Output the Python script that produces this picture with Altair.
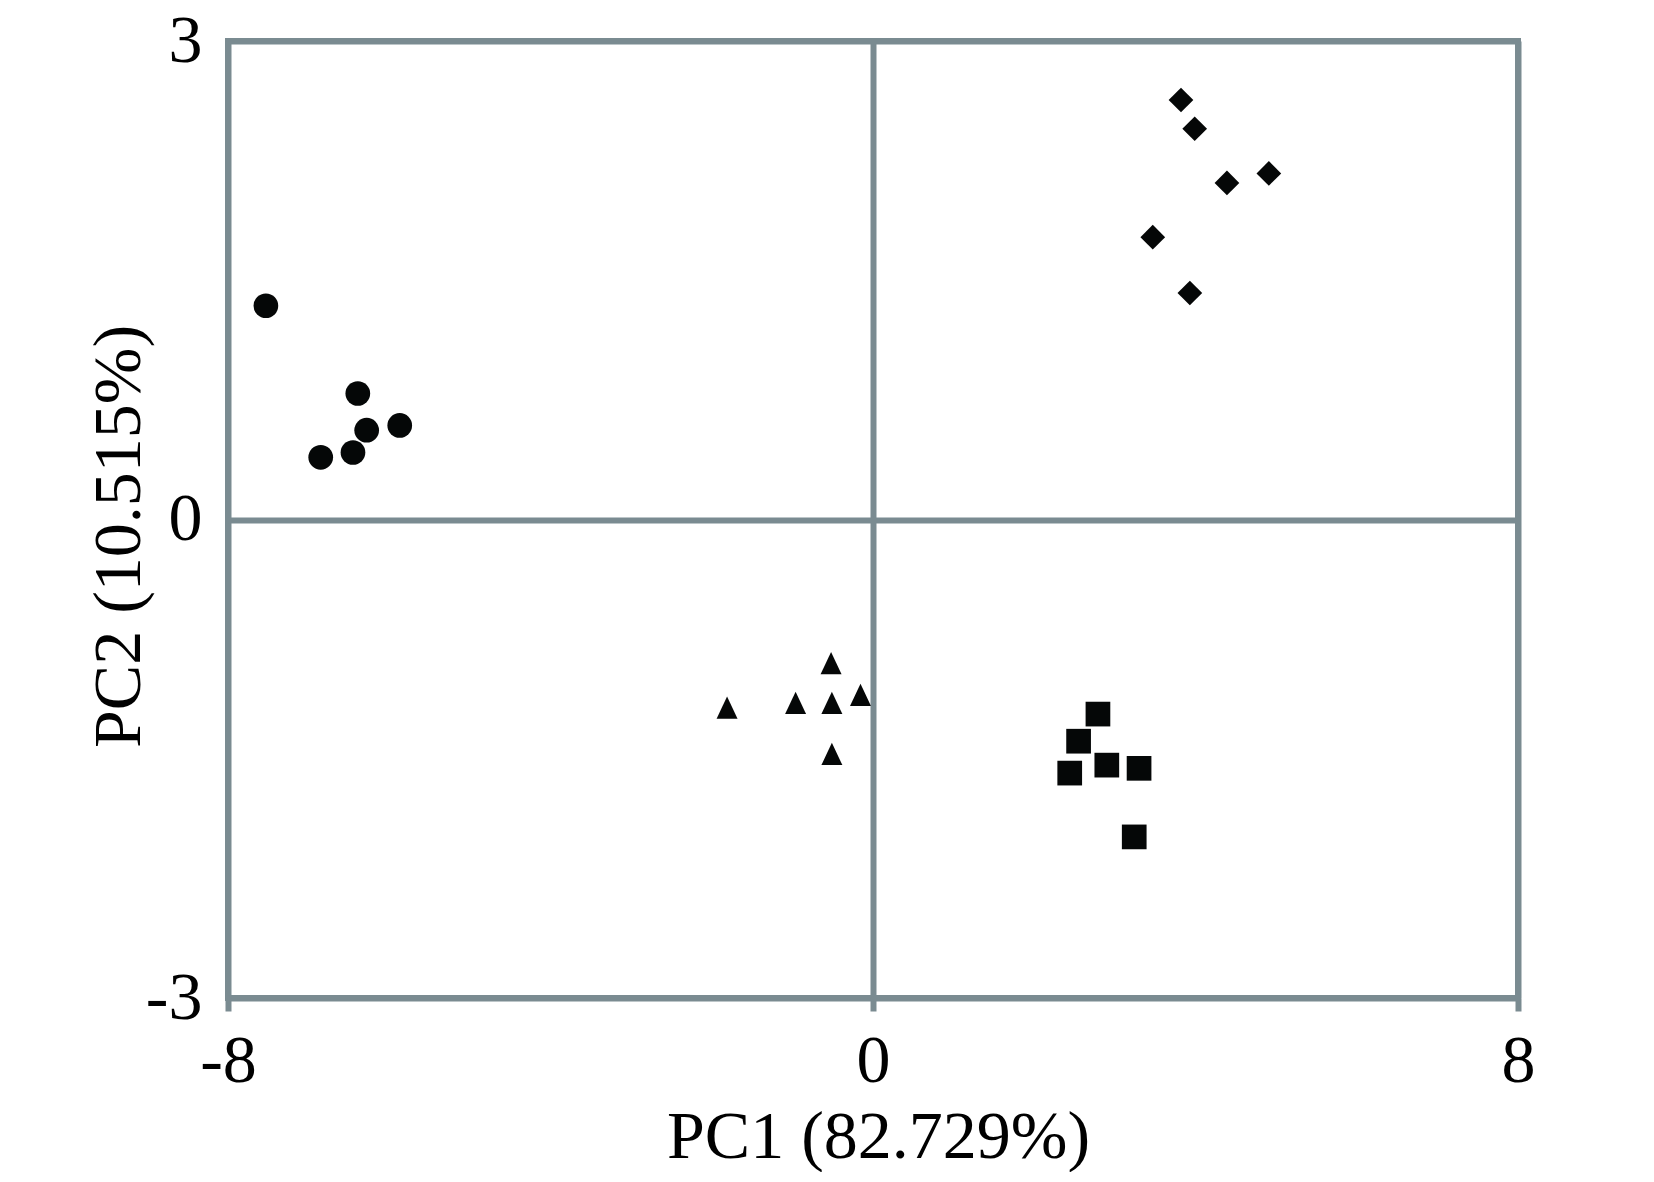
import altair as alt
import pandas as pd

# ---- data (PC1, PC2 scores) ----
circle_x = [-7.53, -6.39, -6.28, -5.87, -6.85, -6.45]
circle_y = [1.34, 0.79, 0.56, 0.59, 0.39, 0.42]

diamond_x = [3.82, 3.99, 4.39, 4.91, 3.47, 3.93]
diamond_y = [2.63, 2.45, 2.11, 2.17, 1.77, 1.42]

triangle_x = [-0.52, -1.81, -0.96, -0.51, -0.155, -0.51]
triangle_y = [-0.90, -1.18, -1.15, -1.15, -1.10, -1.47]

square_x = [2.79, 2.55, 2.90, 3.30, 2.44, 3.24]
square_y = [-1.22, -1.39, -1.54, -1.56, -1.59, -1.99]

x_ticks = [-8, 0, 8]
y_ticks = [-3, 0, 3]
x_title = "PC1 (82.729%)"
y_title = "PC2 (10.515%)"

groups = {
    "circle": (circle_x, circle_y),
    "diamond": (diamond_x, diamond_y),
    "triangle": (triangle_x, triangle_y),
    "square": (square_x, square_y),
}

rows = []
for g, (xs, ys) in groups.items():
    for xv, yv in zip(xs, ys):
        rows.append({"group": g, "pc1": xv, "pc2": yv})
df = pd.DataFrame(rows)

GRAY = "#7a8b91"
FONT = "Liberation Serif"

x_enc = alt.X(
    "pc1:Q",
    scale=alt.Scale(domain=[-8, 8], nice=False, zero=False),
    axis=alt.Axis(
        values=x_ticks,
        title=x_title,
        labelExpr="'' + datum.value",
        domain=False,
        grid=True,
        gridColor=GRAY,
        gridWidth=6,
        gridOpacity=1,
        ticks=True,
        tickColor=GRAY,
        tickWidth=6,
        tickSize=13,
        labelPadding=16,
        labelFont=FONT,
        labelFontSize=68,
        labelColor="black",
        labelFlush=False,
        titleFont=FONT,
        titleFontSize=68,
        titleFontWeight="normal",
        titleColor="black",
        titleX=650,
        titleY=159,
        titleBaseline="alphabetic",
        titleAlign="center",
    ),
)

y_enc = alt.Y(
    "pc2:Q",
    scale=alt.Scale(domain=[-3, 3], nice=False, zero=False),
    axis=alt.Axis(
        values=y_ticks,
        title=y_title,
        labelExpr="'' + datum.value",
        domain=False,
        grid=True,
        gridColor=GRAY,
        gridWidth=6,
        gridOpacity=1,
        ticks=False,
        tickSize=0,
        labelPadding=26,
        labelFont=FONT,
        labelFontSize=68,
        labelColor="black",
        labelFlush=False,
        titleFont=FONT,
        titleFontSize=68,
        titleFontWeight="normal",
        titleColor="black",
        titleX=-89,
        titleY=495,
        titleAngle=270,
        titleBaseline="alphabetic",
        titleAlign="center",
    ),
)

base = alt.Chart(df)

shape_spec = {
    "circle": ("circle", 610),
    "diamond": ("diamond", 610),
    "triangle": ("M0,-1L0.94,1L-0.94,1Z", 497),
    "square": ("square", 610),
}

layers = []
for g, (shp, sz) in shape_spec.items():
    layers.append(
        base.transform_filter(alt.datum.group == g)
        .mark_point(shape=shp, size=sz, filled=True, color="#050707", opacity=1, strokeWidth=0)
        .encode(x=x_enc, y=y_enc)
    )

chart = (
    alt.layer(*layers)
    .properties(
        width=1290,
        height=957,
        autosize=alt.AutoSizeParams(type="none"),
        padding={"left": 220, "top": 33, "right": 124, "bottom": 174},
        background="white",
    )
    .configure_view(stroke=GRAY, strokeWidth=6)
)

chart.save("out.html", embed_options={"renderer": "svg", "actions": False})
